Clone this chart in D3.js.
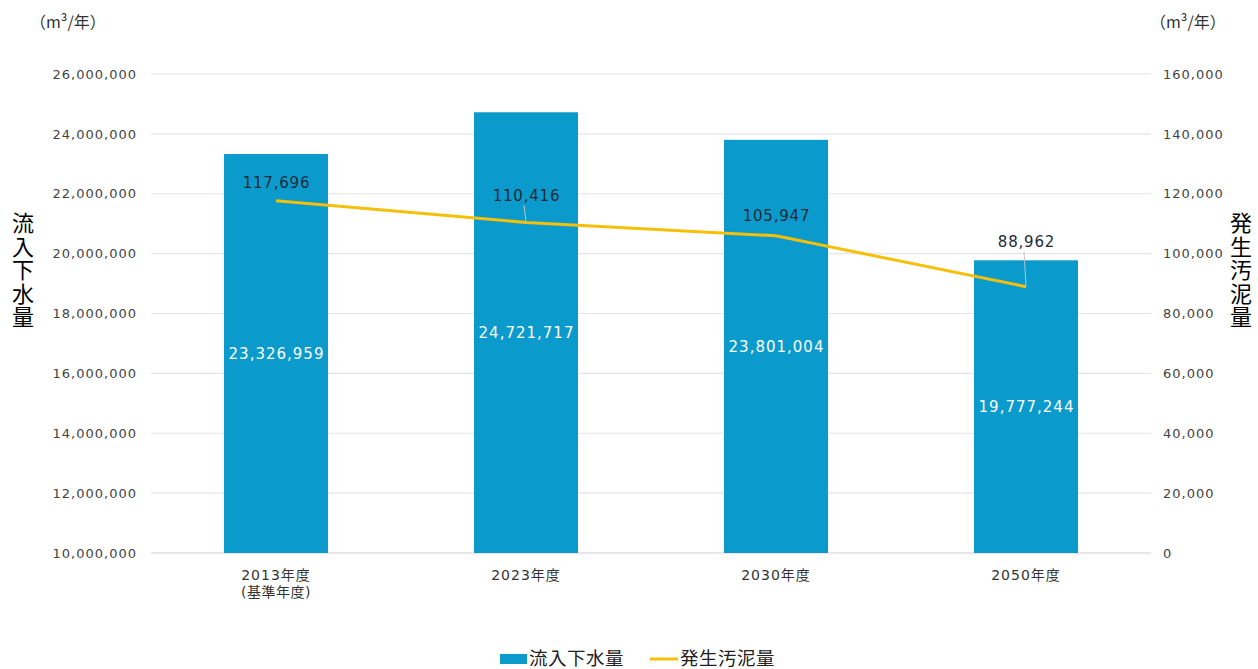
<!DOCTYPE html>
<html><head><meta charset="utf-8">
<script src="https://cdn.jsdelivr.net/npm/d3@7"></script>
<style>
body{margin:0;background:#fff;}
text{font-family:"DejaVu Sans","Noto Sans CJK JP",sans-serif;}
</style></head><body>
<svg id="c" width="1258" height="669"></svg>
<script>
const categories = ["2013年度", "2023年度", "2030年度", "2050年度"];
const subLabels = ["(基準年度)", "", "", ""];
const inflow = [23326959, 24721717, 23801004, 19777244];
const sludge = [117696, 110416, 105947, 88962];
const leftTicks = [10000000,12000000,14000000,16000000,18000000,20000000,22000000,24000000,26000000];
const rightTicks = [0,20000,40000,60000,80000,100000,120000,140000,160000];
const labelOffsets = [18, 27, 20, 45];

const svg = d3.select("#c");
const L = 151, R = 1151, T = 74, B = 553;
const x = d3.scaleBand().domain(categories).range([L, R]).paddingInner(0.584).paddingOuter(0.292);
const yL = d3.scaleLinear().domain([10000000, 26000000]).range([B, T]);
const yR = d3.scaleLinear().domain([0, 160000]).range([B, T]);
const fmt = d3.format(",");
const barColor = "#0a9bcc", lineColor = "#f5bf0a";

// grid
svg.append("g").selectAll("line").data(leftTicks).join("line")
  .attr("x1", L).attr("x2", R).attr("y1", d => yL(d)).attr("y2", d => yL(d))
  .attr("stroke", d => d === 10000000 ? "#cfcfcf" : "#e4e4e4").attr("stroke-width", 1.2);

// left axis
const gl = svg.append("g").attr("transform", `translate(${L},0)`)
  .call(d3.axisLeft(yL).tickValues(leftTicks).tickFormat(fmt).tickSize(0).tickPadding(14));
gl.select(".domain").remove();
gl.selectAll("text").attr("fill", "#444").style("font-size", "13px").style("letter-spacing", "1px");

// right axis
const gr = svg.append("g").attr("transform", `translate(${R},0)`)
  .call(d3.axisRight(yR).tickValues(rightTicks).tickFormat(fmt).tickSize(0).tickPadding(12));
gr.select(".domain").remove();
gr.selectAll("text").attr("fill", "#444").style("font-size", "13px").style("letter-spacing", "1px");

// bars
svg.append("g").selectAll("rect").data(inflow).join("rect")
  .attr("x", (d, i) => x(categories[i])).attr("width", x.bandwidth())
  .attr("y", d => yL(d)).attr("height", d => B - yL(d)).attr("fill", barColor);

// bar labels
svg.append("g").selectAll("text").data(inflow).join("text")
  .attr("x", (d, i) => x(categories[i]) + x.bandwidth() / 2 + 0.5)
  .attr("y", d => (yL(d) + B) / 2).attr("dy", "0.35em")
  .attr("text-anchor", "middle").attr("fill", "#fff").style("font-size", "15px").style("letter-spacing", "1px")
  .text(d => fmt(d));

// line
const cx = i => x(categories[i]) + x.bandwidth() / 2;
svg.append("path").datum(sludge)
  .attr("d", d3.line().x((d, i) => cx(i)).y(d => yR(d)))
  .attr("fill", "none").attr("stroke", lineColor).attr("stroke-width", 3);

// leader lines
const leaders = sludge.map((v, i) => ({v, i})).filter(o => labelOffsets[o.i] > 22);
svg.append("g").selectAll("line").data(leaders).join("line")
  .attr("x1", o => cx(o.i) - 2).attr("x2", o => cx(o.i))
  .attr("y1", o => yR(o.v) - labelOffsets[o.i] + 10).attr("y2", o => yR(o.v) - 1)
  .attr("stroke", "#b8c4cc").attr("stroke-width", 1);

// line labels
svg.append("g").selectAll("text").data(sludge).join("text")
  .attr("x", (d, i) => cx(i) + 0.5).attr("y", (d, i) => yR(d) - labelOffsets[i]).attr("dy", "0.35em")
  .attr("text-anchor", "middle").attr("fill", "#1f2a36").style("font-size", "15px").style("letter-spacing", "0.8px")
  .text(d => fmt(d));

// x labels
const xl = svg.append("g");
categories.forEach((c, i) => {
  xl.append("text").attr("x", cx(i)).attr("y", 580).attr("text-anchor", "middle")
    .attr("fill", "#333").style("font-size", "14px").style("letter-spacing", "1px").text(c);
  if (subLabels[i]) xl.append("text").attr("x", cx(i)).attr("y", 597).attr("text-anchor", "middle")
    .attr("fill", "#333").style("font-size", "14px").style("letter-spacing", "0.5px").text(subLabels[i]);
});

// units
svg.append("text").attr("x", 30).attr("y", 28).attr("fill", "#333").style("font-size", "16px")
  .style("font-family", "'Noto Sans CJK JP',sans-serif").text("（m³/年）");
svg.append("text").attr("x", 1150).attr("y", 28).attr("fill", "#333").style("font-size", "16px")
  .style("font-family", "'Noto Sans CJK JP',sans-serif").text("（m³/年）");

// axis titles (vertical)
function vtitle(str, xx, y0) {
  svg.append("text").attr("x", xx).attr("y", y0)
    .style("writing-mode", "vertical-rl").style("text-orientation", "upright")
    .style("font-family", "'Noto Sans CJK JP',sans-serif")
    .style("letter-spacing", "1.5px")
    .attr("fill", "#000").style("font-size", "22px").text(str);
}
vtitle("流入下水量", 23, 212);
vtitle("発生汚泥量", 1241, 212);

// legend
svg.append("rect").attr("x", 500).attr("y", 654).attr("width", 27).attr("height", 10).attr("fill", barColor);
svg.append("text").attr("x", 529).attr("y", 665).attr("fill", "#222").style("font-size", "18.5px")
  .style("font-family", "'Noto Sans CJK JP',sans-serif").style("letter-spacing", "0.5px").text("流入下水量");
svg.append("line").attr("x1", 650).attr("x2", 678).attr("y1", 659).attr("y2", 659).attr("stroke", lineColor).attr("stroke-width", 3);
svg.append("text").attr("x", 680).attr("y", 665).attr("fill", "#222").style("font-size", "18.5px")
  .style("font-family", "'Noto Sans CJK JP',sans-serif").style("letter-spacing", "0.5px").text("発生汚泥量");
</script></body></html>
